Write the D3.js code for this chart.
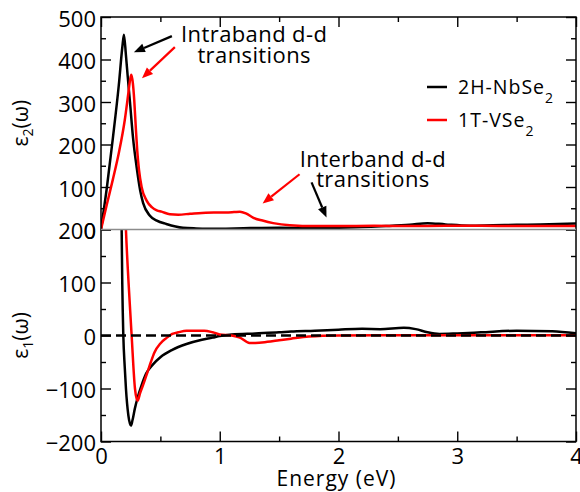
<!DOCTYPE html>
<html>
<head>
<meta charset="utf-8">
<script src="https://cdn.jsdelivr.net/npm/d3@7"></script>
<style>
  html, body { margin: 0; padding: 0; background: #fff; }
  svg { display: block; font-family: "Open Sans", "Liberation Sans", sans-serif; }
</style>
</head>
<body>
<svg id="chart" width="580" height="492"></svg>
<script>
// ---- data -------------------------------------------------------------
const energyTicks = [0, 1, 2, 3, 4];
const energyMinor = [0.5, 1.5, 2.5, 3.5];
const eps2Ticks = [0, 100, 200, 300, 400, 500];
const eps2Minor = [50, 150, 250, 350, 450];
const eps1Ticks = [-200, -100, 0, 100, 200];
const eps1Minor = [-150, -50, 50, 150];

const materials = ["2H-NbSe", "1T-VSe"];   // each followed by a subscript 2
const materialColors = ["#000000", "#ff0000"];

// imaginary part eps2(E), [energy eV, value]
const nbEps2 = [
  [0, 0], [0.05, 100], [0.1, 215], [0.15, 340], [0.18, 430], [0.193, 458],
  [0.21, 410], [0.225, 360], [0.244, 300], [0.27, 215], [0.3, 147], [0.33, 92],
  [0.355, 62], [0.41, 33], [0.47, 21], [0.55, 13], [0.69, 4], [0.8, 2.5], [0.9, 2],
  [1.0, 2], [1.2, 3], [1.5, 4], [1.8, 3], [2.0, 4], [2.2, 6], [2.4, 8], [2.6, 11],
  [2.75, 15], [2.9, 12], [3.1, 9], [3.3, 10], [3.5, 11], [3.7, 12], [4.0, 14]
];
const vEps2 = [
  [0, 0], [0.05, 60], [0.1, 118], [0.15, 180], [0.2, 257], [0.23, 320], [0.245, 352],
  [0.255, 364], [0.268, 345], [0.28, 304], [0.293, 240], [0.305, 186], [0.32, 140],
  [0.342, 100], [0.384, 68], [0.43, 52], [0.47, 45], [0.51, 42], [0.58, 36], [0.65, 35],
  [0.75, 37], [0.85, 39], [0.95, 40], [1.05, 40], [1.12, 41], [1.17, 42], [1.22, 38],
  [1.28, 28], [1.36, 21], [1.45, 15], [1.59, 10], [1.8, 8], [2.0, 8], [2.3, 9],
  [2.6, 8], [2.9, 9], [3.2, 9], [3.5, 8], [3.8, 8], [4.0, 8]
];

// real part eps1(E), [energy eV, value]
const nbEps1 = [
  [0.1, 1500], [0.14, 600], [0.16, 330], [0.174, 200], [0.179, 100], [0.188, 0],
  [0.2, -60], [0.21, -100], [0.23, -150], [0.252, -170], [0.265, -160], [0.285, -138],
  [0.31, -116], [0.34, -95], [0.38, -72], [0.44, -54], [0.5, -41], [0.6, -27],
  [0.72, -16], [0.85, -8], [0.94, -4], [1.0, -1], [1.1, 2], [1.3, 4], [1.5, 6],
  [1.6, 7.5], [1.8, 9], [2.0, 11], [2.2, 12.6], [2.35, 12], [2.55, 14.5], [2.65, 12],
  [2.75, 6], [2.85, 3], [3.0, 4], [3.2, 6], [3.5, 9], [3.8, 8], [4.0, 4]
];
const vEps1 = [
  [0.12, 1200], [0.17, 500], [0.195, 300], [0.21, 200], [0.232, 100], [0.258, 0],
  [0.286, -100], [0.308, -123], [0.33, -108], [0.36, -90], [0.39, -70], [0.42, -50],
  [0.45, -32], [0.5, -15], [0.55, -5], [0.6, 3], [0.65, 6], [0.72, 9], [0.8, 9],
  [0.87, 9], [0.94, 6], [1.0, 2], [1.1, 0], [1.17, -4], [1.25, -14], [1.3, -14],
  [1.4, -12], [1.5, -9], [1.6, -6], [1.75, -2], [2.0, 0], [2.5, 0.5], [3.0, 0.5],
  [3.5, 0.5], [4.0, 0.5]
];

// annotations on the eps2 panel (energy, eps2)
const annotations = [
  { lines: ["Intraband d-d", "transitions"], at: [1.29, 442], gap: 21.5 },
  { lines: ["Interband d-d", "transitions"], at: [2.29, 146], gap: 20 }
];
const arrows = [
  { from: [0.597, 455], to: [0.277, 417], color: "#000" },
  { from: [0.622, 429], to: [0.345, 356], color: "#ff0000" },
  { from: [1.672, 130], to: [1.361, 61], color: "#ff0000" },
  { from: [1.773, 111], to: [1.899, 28], color: "#000" }
];

// ---- layout ------------------------------------------------------------
const svg = d3.select("#chart");
const plotLeft = 101, plotRight = 576, plotTop = 17, plotMid = 229.5, plotBottom = 441.5;

const x = d3.scaleLinear().domain([0, 4]).range([plotLeft, plotRight]);
const y2 = d3.scaleLinear().domain([0, 500]).range([plotMid, plotTop]);
const y1 = d3.scaleLinear().domain([-200, 200]).range([plotBottom, plotMid]);

const defs = svg.append("defs");
defs.append("clipPath").attr("id", "clipTop")
  .append("rect").attr("x", plotLeft).attr("y", plotTop)
  .attr("width", plotRight - plotLeft).attr("height", plotMid - plotTop);
defs.append("clipPath").attr("id", "clipBottom")
  .append("rect").attr("x", plotLeft).attr("y", plotMid)
  .attr("width", plotRight - plotLeft).attr("height", plotBottom - plotMid);

function styleAxis(g, fontSize) {
  g.select(".domain").remove();
  g.selectAll(".tick line").attr("stroke", "#000").attr("stroke-width", 1.4);
  g.selectAll(".tick text").attr("fill", "#000").attr("font-size", fontSize || 22)
    .attr("font-family", "'Open Sans', 'Liberation Sans', sans-serif");
}

const intFmt = d3.format("d");

// left axes
function leftAxis(scale, major, minor) {
  const g = svg.append("g").attr("transform", `translate(${plotLeft},0)`)
    .call(d3.axisLeft(scale).tickValues(major).tickSize(-10).tickPadding(5).tickFormat(intFmt));
  styleAxis(g);
  g.selectAll(".tick text").attr("dy", "0.42em");
  const gm = svg.append("g").attr("transform", `translate(${plotLeft},0)`)
    .call(d3.axisLeft(scale).tickValues(minor).tickSize(-5).tickFormat(""));
  styleAxis(gm);
}
function rightAxis(scale, major, minor) {
  const g = svg.append("g").attr("transform", `translate(${plotRight},0)`)
    .call(d3.axisRight(scale).tickValues(major).tickSize(-10).tickFormat(""));
  styleAxis(g);
  const gm = svg.append("g").attr("transform", `translate(${plotRight},0)`)
    .call(d3.axisRight(scale).tickValues(minor).tickSize(-5).tickFormat(""));
  styleAxis(gm);
}
leftAxis(y2, eps2Ticks, eps2Minor);
leftAxis(y1, eps1Ticks, eps1Minor);
rightAxis(y2, eps2Ticks, eps2Minor);
rightAxis(y1, eps1Ticks, eps1Minor);

// top axis (ticks only)
styleAxis(svg.append("g").attr("transform", `translate(0,${plotTop})`)
  .call(d3.axisTop(x).tickValues(energyTicks).tickSize(-10).tickFormat("")));
styleAxis(svg.append("g").attr("transform", `translate(0,${plotTop})`)
  .call(d3.axisTop(x).tickValues(energyMinor).tickSize(-5).tickFormat("")));

// bottom axis
const gx = svg.append("g").attr("transform", `translate(0,${plotBottom})`)
  .call(d3.axisBottom(x).tickValues(energyTicks).tickSize(-10).tickPadding(7).tickFormat(intFmt));
styleAxis(gx);
styleAxis(svg.append("g").attr("transform", `translate(0,${plotBottom})`)
  .call(d3.axisBottom(x).tickValues(energyMinor).tickSize(-5).tickFormat("")));

// ---- curves --------------------------------------------------------------
const line2 = d3.line().x(d => x(d[0])).y(d => y2(d[1])).curve(d3.curveMonotoneX);
const line1 = d3.line().x(d => x(d[0])).y(d => y1(d[1])).curve(d3.curveMonotoneX);

const topG = svg.append("g").attr("clip-path", "url(#clipTop)");
const botG = svg.append("g").attr("clip-path", "url(#clipBottom)");

[[nbEps2, materialColors[0]], [vEps2, materialColors[1]]].forEach(([d, c]) => {
  topG.append("path").datum(d).attr("d", line2).attr("fill", "none")
    .attr("stroke", c).attr("stroke-width", 2.5).attr("stroke-linejoin", "round");
});
[[nbEps1, materialColors[0]], [vEps1, materialColors[1]]].forEach(([d, c]) => {
  botG.append("path").datum(d).attr("d", line1).attr("fill", "none")
    .attr("stroke", c).attr("stroke-width", 2.5).attr("stroke-linejoin", "round");
});

// zero reference line
botG.append("line")
  .attr("x1", x(0)).attr("x2", x(4)).attr("y1", y1(0)).attr("y2", y1(0))
  .attr("stroke", "#000").attr("stroke-width", 2.5).attr("stroke-dasharray", "10,5");

// ---- frame ----------------------------------------------------------------
svg.append("rect").attr("x", plotLeft).attr("y", plotTop)
  .attr("width", plotRight - plotLeft).attr("height", plotBottom - plotTop)
  .attr("fill", "none").attr("stroke", "#000").attr("stroke-width", 1.5);
svg.append("line").attr("x1", plotLeft).attr("x2", plotRight).attr("y1", plotMid).attr("y2", plotMid)
  .attr("stroke", "#8c8c8c").attr("stroke-width", 1.6);

// ---- annotations -----------------------------------------------------------
annotations.forEach(a => {
  a.lines.forEach((s, i) => {
    svg.append("text").attr("text-anchor", "middle").attr("font-size", 22)
      .attr("fill", "#000").attr("letter-spacing", 0.4)
      .attr("x", x(a.at[0])).attr("y", y2(a.at[1]) + i * a.gap).text(s);
  });
});

arrows.forEach(a => {
  const x0 = x(a.from[0]), yy0 = y2(a.from[1]);
  const x1 = x(a.to[0]), yy1 = y2(a.to[1]);
  const ang = Math.atan2(yy1 - yy0, x1 - x0);
  const head = 11, half = 4.5;
  const bx = x1 - head * Math.cos(ang), by = yy1 - head * Math.sin(ang);
  svg.append("line").attr("x1", x0).attr("y1", yy0).attr("x2", bx).attr("y2", by)
    .attr("stroke", a.color).attr("stroke-width", 2.2);
  const pts = [
    [x1, yy1],
    [bx + half * Math.sin(ang), by - half * Math.cos(ang)],
    [bx - half * Math.sin(ang), by + half * Math.cos(ang)]
  ];
  svg.append("polygon").attr("points", pts.map(p => p.join(",")).join(" "))
    .attr("fill", a.color);
});

// ---- legend -------------------------------------------------------------
const legend = svg.append("g");
materials.forEach((name, i) => {
  const ly = 87 + i * 33;
  legend.append("line").attr("x1", 427).attr("x2", 447).attr("y1", ly).attr("y2", ly)
    .attr("stroke", materialColors[i]).attr("stroke-width", 2.5);
  const t = legend.append("text").attr("x", 458).attr("y", ly + 6.5)
    .attr("font-size", 19.5).attr("fill", "#000").attr("letter-spacing", 1);
  t.append("tspan").text(name);
  t.append("tspan").attr("font-size", 14).attr("dy", 9).text("2");
});

// ---- axis titles -----------------------------------------------------------
svg.append("text").attr("x", x(2) - 2).attr("y", 486).attr("text-anchor", "middle")
  .attr("font-size", 21).attr("letter-spacing", 1).attr("fill", "#000").text("Energy (eV)");

function yTitle(cy, sub) {
  const t = svg.append("text").attr("transform", `translate(28,${cy}) rotate(-90)`)
    .attr("text-anchor", "middle").attr("font-size", 21).attr("fill", "#000");
  t.append("tspan").text("ε");
  t.append("tspan").attr("font-size", 14).attr("dy", 5).text(sub);
  t.append("tspan").attr("dy", -5).text("(ω)");
}
yTitle((y2(0) + y2(500)) / 2, "2");
yTitle(y1(0), "1");
</script>
</body>
</html>
